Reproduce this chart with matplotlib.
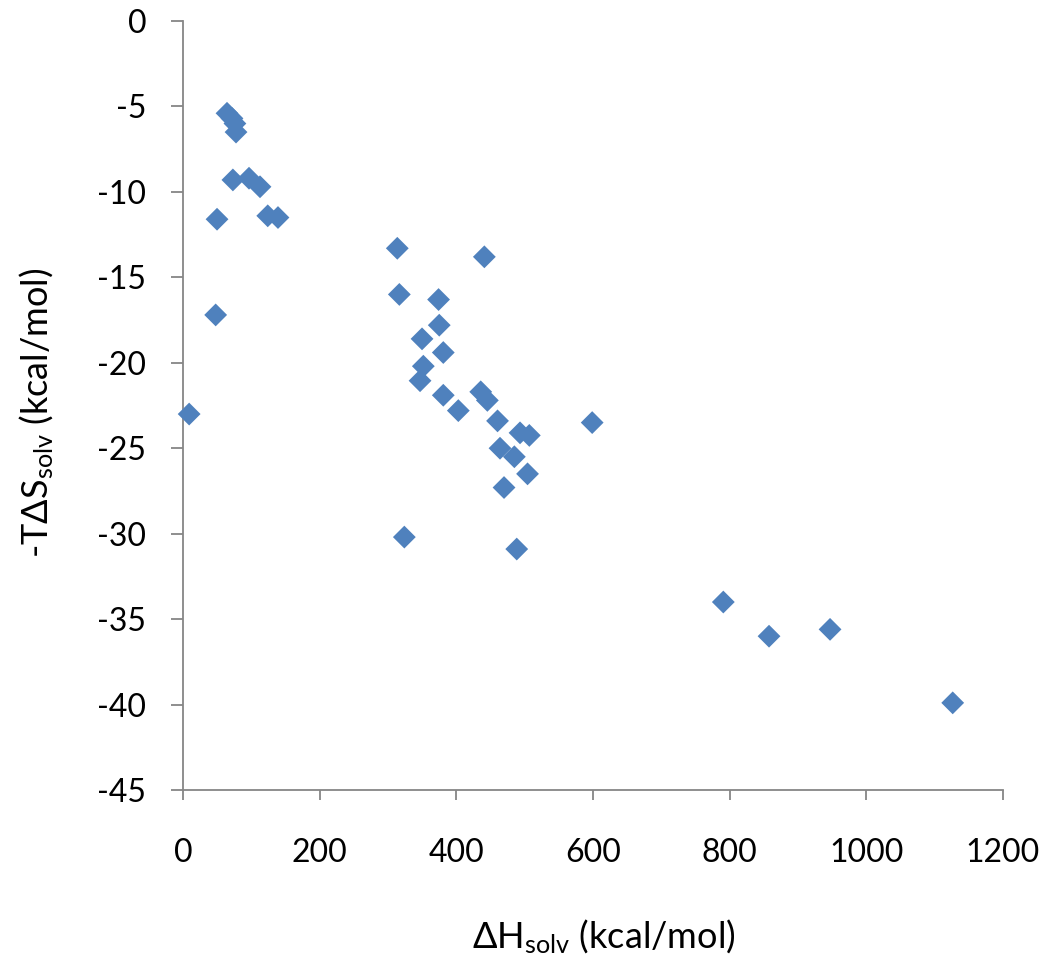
import matplotlib
matplotlib.use("Agg")
import matplotlib.pyplot as plt

# Data
dH_solv = [9, 47.8, 49.8, 64.4, 71.7, 76, 77.6, 73, 96.6, 112.7, 124, 139,
           313.6, 316.6, 441, 374, 375, 349.8, 380.9, 351.7, 346.9, 380.9,
           435.7, 445.4, 402.9, 460.3, 493.2, 506.8, 598.8, 463.9, 484.9,
           504.2, 469.8, 323.9, 488.4, 790.7, 857.6, 946.9, 1126.4]
mTdS_solv = [-23.0, -17.2, -11.6, -5.4, -5.7, -6.0, -6.5, -9.3, -9.2, -9.7, -11.4, -11.5,
             -13.3, -16.0, -13.8, -16.3, -17.8, -18.6, -19.4, -20.2, -21.05, -21.9,
             -21.7, -22.2, -22.8, -23.4, -24.1, -24.25, -23.5, -25.0, -25.5,
             -26.5, -27.3, -30.2, -30.9, -34.0, -36.0, -35.6, -39.9]
x_ticks = [0, 200, 400, 600, 800, 1000, 1200]
y_ticks = [0, -5, -10, -15, -20, -25, -30, -35, -40, -45]

plt.rcParams['font.family'] = ['Lato', 'DejaVu Sans']
plt.rcParams['mathtext.fontset'] = 'custom'
plt.rcParams['mathtext.rm'] = 'Lato'
plt.rcParams['mathtext.it'] = 'Lato'
plt.rcParams['mathtext.default'] = 'regular'

fig = plt.figure(figsize=(10.5, 9.68), dpi=100)
ax = fig.add_axes([183/1050, 1 - 790/968, (1003 - 183)/1050, (790 - 21)/968])

ax.scatter(dH_solv, mTdS_solv, marker='D', s=135, color='#4F81BD',
           edgecolors='none', clip_on=False, zorder=3)

ax.set_xlim(0, 1200)
ax.set_ylim(-45, 0)
ax.set_xticks(x_ticks)
ax.set_yticks(y_ticks)
ax.set_xticklabels([str(v) for v in x_ticks])
ax.set_yticklabels([str(v) for v in y_ticks])

for s in ['top', 'right']:
    ax.spines[s].set_visible(False)
for s in ['left', 'bottom']:
    ax.spines[s].set_color('#868686')
    ax.spines[s].set_linewidth(1.3)

ax.tick_params(axis='y', direction='out', length=8.5, width=1.3, color='#868686',
               pad=18, labelsize=23)
ax.tick_params(axis='x', direction='out', length=7.2, width=1.3, color='#868686',
               pad=27, labelsize=23)

ax.set_xlabel(r'$\Delta$H$_{solv}$ (kcal/mol)', fontsize=26, labelpad=36)
ax.xaxis.label.set_x(0.513)
ax.set_ylabel(r'-T$\Delta$S$_{solv}$ (kcal/mol)', fontsize=26, labelpad=30)
ax.yaxis.label.set_y(0.49)

fig.savefig('out.png', dpi=100, facecolor='white')
